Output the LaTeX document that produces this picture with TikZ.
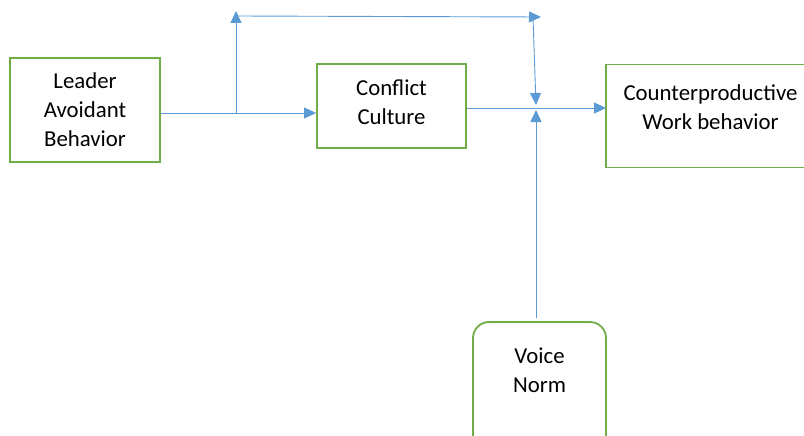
\documentclass[tikz,border=0pt]{standalone}
\usepackage{fontspec}
\setmainfont{Carlito}
\usetikzlibrary{arrows.meta}
\definecolor{boxgreen}{HTML}{70AD47}
\definecolor{linkblue}{HTML}{5B9BD5}
\tikzset{
  box/.style={draw=boxgreen, line width=1.8pt, align=center, inner sep=0pt,
    font=\fontsize{22.8}{29}\selectfont},
  link/.style={draw=linkblue, line width=0.9pt,
    -{Triangle[length=12pt,width=11pt]}}
}

\begin{document}
\begin{tikzpicture}[x=1pt,y=-1pt]
        \useasboundingbox (0,0) rectangle (804,436);
        \clip (0,0) rectangle (804,436);
        % boxes
        \node[box, minimum width=150pt, minimum height=104pt] (leader) at (85,110) {Leader\\Avoidant\\Behavior};
        \node[box, minimum width=149pt, minimum height=84pt, text depth=8pt] (conflict) at (391.5,106) {Conflict\\Culture};
        \node[box, draw=none, minimum width=207pt, minimum height=101pt, text depth=17pt] (cwb) at (710.5,116) {Counterproductive\\Work behavior};
        \node[box, rounded corners=16pt, minimum width=133pt, minimum height=130pt, text depth=33pt] (voice) at (539.5,387) {Voice\\Norm};
        % right side of this box runs off the page
        \draw[boxgreen, line width=1.8pt] (cwb.north east) ++(20,0) -- (cwb.north west) -- (cwb.south west) -- ++(230,0);

        \coordinate (split) at (236,113);
        \coordinate (upend) at (236,11);
        \coordinate (topL) at (236,16);
        \coordinate (topR) at (541,17);
        \coordinate (downst) at (533,17);
        \coordinate (downend) at (536,105);
        \coordinate (upst) at (536,318);
        \coordinate (voiceend) at (536,110);

        % paths
        \draw[link] (leader.east |- split) -- (conflict.west |- split);
        \draw[link] (split) -- (upend);
        \draw[link] (topL) -- (topR);
        \draw[link] (downst) -- (downend);
        \draw[link] (conflict.east |- 0,108) -- (cwb.west |- 0,108);
        \draw[link] (upst) -- (voiceend);
\end{tikzpicture}
\end{document}
